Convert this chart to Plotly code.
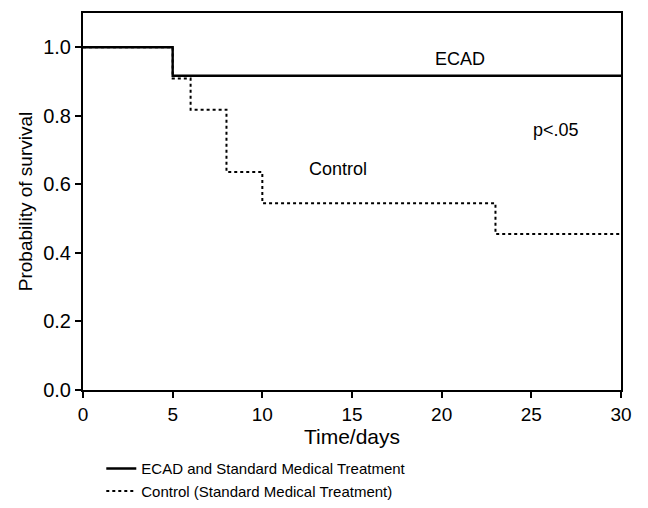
import plotly.graph_objects as go

# Kaplan-Meier step data
ecad_days = [0, 5, 5, 30]
ecad_surv = [1.0, 1.0, 0.917, 0.917]

control_days = [0, 5, 5, 6, 6, 8, 8, 10, 10, 23, 23, 30]
control_surv = [1.0, 1.0, 0.909, 0.909, 0.818, 0.818, 0.636, 0.636, 0.545, 0.545, 0.455, 0.455]

x_ticks = [0, 5, 10, 15, 20, 25, 30]
y_ticks = [0.0, 0.2, 0.4, 0.6, 0.8, 1.0]

font_family = "Liberation Sans, Arial, sans-serif"

fig = go.Figure()
fig.add_trace(go.Scatter(
    x=control_days, y=control_surv, mode="lines",
    name="Control (Standard Medical Treatment)",
    line=dict(color="black", width=2, dash="dot"),
))
fig.add_trace(go.Scatter(
    x=ecad_days, y=ecad_surv, mode="lines",
    name="ECAD and Standard Medical Treatment",
    line=dict(color="black", width=2.4),
))

fig.add_annotation(x=21, y=0.965, text="ECAD", showarrow=False,
                   font=dict(size=18, color="black", family=font_family))
fig.add_annotation(x=14.2, y=0.645, text="Control", showarrow=False,
                   font=dict(size=18, color="black", family=font_family))
fig.add_annotation(x=26.4, y=0.76, text="p<.05", showarrow=False,
                   font=dict(size=18, color="black", family=font_family))

fig.update_layout(
    width=648, height=508,
    margin=dict(l=83, r=27, t=13, b=118, autoexpand=False),
    paper_bgcolor="white", plot_bgcolor="white",
    font=dict(family=font_family, color="black"),
    showlegend=True,
    legend=dict(
        x=0.034, y=-0.165, xanchor="left", yanchor="top",
        traceorder="reversed",
        font=dict(size=15, color="black", family=font_family),
        bgcolor="rgba(0,0,0,0)", tracegroupgap=0,
    ),
    xaxis=dict(
        range=[0, 30], tickvals=x_ticks, ticktext=[str(v) for v in x_ticks],
        showline=True, linecolor="black", linewidth=2, mirror=True,
        ticks="outside", ticklen=6, tickwidth=2, tickcolor="black",
        showgrid=False, zeroline=False,
        tickfont=dict(size=19), title=dict(text="Time/days", font=dict(size=21), standoff=6),
    ),
    yaxis=dict(
        range=[0, 1.1], tickvals=y_ticks, tickformat=".1f",
        showline=True, linecolor="black", linewidth=2, mirror=True,
        ticks="outside", ticklen=6, tickwidth=2, tickcolor="black",
        showgrid=False, zeroline=False,
        tickfont=dict(size=20), title=dict(text="Probability of survival", font=dict(size=19), standoff=6),
    ),
)

fig.write_html("out.html")
